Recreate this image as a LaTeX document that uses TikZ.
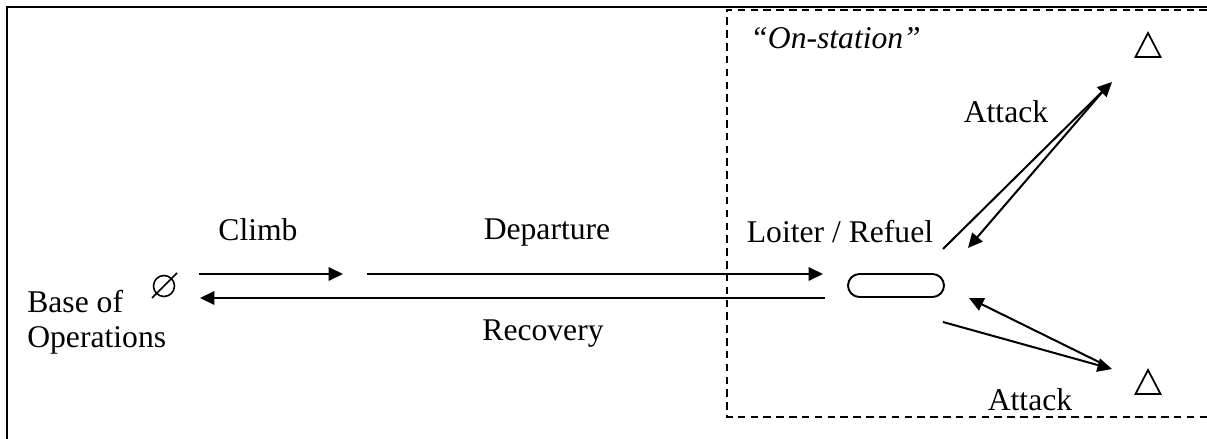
\documentclass[tikz,border=0pt]{standalone}
\usepackage{fontspec}
\setmainfont{Liberation Serif}
\usetikzlibrary{positioning,calc,arrows.meta}
\tikzset{
  figfont/.style={font=\fontsize{18}{20}\selectfont},
  figlabel/.style={inner sep=0pt},
  figarrow/.style={-{Triangle[length=2.9mm, width=2.7mm]}, line width=1.15pt},
  figframe/.style={line width=1.4pt},
  figstation/.style={line width=1.1pt, dash pattern=on 4.3pt off 3pt},
  figtarget/.style={line width=1pt, line join=miter},
  figbase/.style={draw, circle, minimum size=4.2mm, inner sep=0pt, line width=0.9pt},
  figorbit/.style={draw, rounded corners=2.3mm, minimum width=19.2mm, minimum height=4.6mm, inner sep=0pt, line width=1.1pt},
}

\begin{document}
\begin{tikzpicture}[figfont, x=0.02cm, y=-0.02cm]
			\useasboundingbox (0,0) rectangle (1207,439);

			% Page frame and on-station area
			\draw[figframe] (7,439) -- (7,7) -- (1207,7);
			\draw[figstation] (1207,10) -- (727,10) -- (727,417) -- (1207,417);

			% Base of operations, loiter orbit and targets
			\node[figbase] (base) at (164,286) {};
			\draw[line width=0.9pt] ($(base.center)+(-12,12)$) -- ($(base.center)+(13,-13)$);
			\node[figlabel, align=left, anchor=west] (baselbl) at (27,322) {Base of\\Operations};
			\node[figorbit] (orbit) at (896,285.5) {};
			\coordinate (tgt-up) at (1148,45);
			\coordinate (tgt-down) at (1148,382);
			\foreach \t in {tgt-up,tgt-down}
				\draw[figtarget] ($(\t)+(0,-12)$) -- ($(\t)+(12.5,12)$) -- ($(\t)+(-12.5,12)$) -- cycle;

			% Leg labels
			\node[figlabel] (climb) at (258,230) {Climb};
			\node[figlabel] (departure) at (547,233) {Departure};
			\node[figlabel] (recovery) at (543,334) {Recovery};
			\node[figlabel] (loiter) at (840,232) {Loiter / Refuel};
			\node[figlabel, anchor=west] (onstation) at (750,38) {\textit{``On-station''}};
			\node[figlabel] (attack-up) at (1006,112) {Attack};
			\node[figlabel] (attack-down) at (1030,400) {Attack};

			% Outbound and return legs
			\coordinate (climb-s) at (199,274);
			\coordinate (climb-e) at (343,274);
			\coordinate (dep-s) at (367,274);
			\coordinate (dep-e) at (823,274);
			\coordinate (rec-s) at (825,298);
			\coordinate (rec-e) at (200,298);
			\draw[figarrow] (climb-s) -- (climb-e);
			\draw[figarrow] (dep-s) -- (dep-e);
			\draw[figarrow] (rec-s) -- (rec-e);

			% Attack legs to and from each target
			\coordinate (up-go-s) at (943,249);
			\coordinate (up-go-e) at (1112,82);
			\coordinate (up-back-s) at (1104,90);
			\coordinate (up-back-e) at (968,248);
			\coordinate (down-go-s) at (943,322);
			\coordinate (down-go-e) at (1112,369);
			\coordinate (down-back-s) at (1107,366);
			\coordinate (down-back-e) at (969,298);
			\draw[figarrow] (up-go-s) -- (up-go-e);
			\draw[figarrow] (up-back-s) -- (up-back-e);
			\draw[figarrow] (down-go-s) -- (down-go-e);
			\draw[figarrow] (down-back-s) -- (down-back-e);
		\end{tikzpicture}
\end{document}
